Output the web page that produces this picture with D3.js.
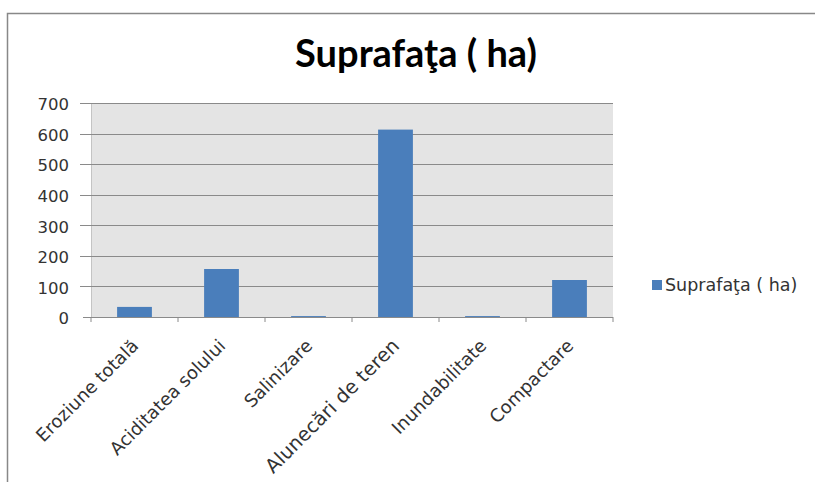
<!DOCTYPE html>
<html><head><meta charset="utf-8">
<script src="https://cdn.jsdelivr.net/npm/d3@7"></script>
<style>body{margin:0;background:#fff}</style>
</head><body>
<svg id="c" width="815" height="482"></svg>
<script>
const categories = ["Eroziune totală","Aciditatea solului","Salinizare","Alunecări de teren","Inundabilitate","Compactare"];
const values = [33, 157, 3, 613, 3, 121];
const yTicks = [0,100,200,300,400,500,600,700];
const seriesName = "Suprafaţa ( ha)";

const svg = d3.select("#c");
const titleFont = "Lato, 'Open Sans', sans-serif";
const font = "'DejaVu Sans', Verdana, sans-serif";
svg.append("path").attr("d","M7.5,482 L7.5,13.5 L815,13.5").attr("fill","none").attr("stroke","#888").attr("stroke-width",1.5);

const L=91, R=613, T=103, B=317;
const x = d3.scaleBand().domain(categories).range([L,R]).paddingInner(0.6).paddingOuter(0.3);
const y = d3.scaleLinear().domain([0,700]).range([B,T]);

svg.append("rect").attr("x",L).attr("y",T).attr("width",R-L).attr("height",B-T).attr("fill","#e4e4e4");
svg.append("line").attr("x1",L+0.5).attr("x2",L+0.5).attr("y1",T).attr("y2",B).attr("stroke","#c4c4c4");

svg.selectAll(".grid").data(yTicks.filter(d=>d>0)).enter().append("line")
  .attr("x1",L-11).attr("x2",R).attr("y1",d=>Math.round(y(d))+0.5).attr("y2",d=>Math.round(y(d))+0.5)
  .attr("stroke","#8a8a8a").attr("stroke-width",1.2);

svg.selectAll(".bar").data(values).enter().append("rect")
  .attr("x",(d,i)=>x(categories[i])).attr("width",x.bandwidth())
  .attr("y",d=>y(d)).attr("height",d=>B-y(d))
  .attr("fill","#4a7ebb");

const yAxis = d3.axisLeft(y).tickValues(yTicks).tickSize(0).tickPadding(22);
const gy = svg.append("g").attr("transform",`translate(${L},1.5)`).call(yAxis);
gy.select(".domain").remove();
gy.selectAll("text").attr("font-family",font).attr("font-size",16.5).attr("fill","#333");

svg.append("line").attr("x1",L-8).attr("x2",R).attr("y1",B+0.5).attr("y2",B+0.5).attr("stroke","#8a8a8a").attr("stroke-width",1.2);
const step = (R-L)/categories.length;
svg.selectAll(".xt").data(d3.range(categories.length+1)).enter().append("line")
  .attr("x1",i=>L+i*step).attr("x2",i=>L+i*step).attr("y1",B).attr("y2",B+5).attr("stroke","#8a8a8a");

svg.selectAll(".xl").data(categories).enter().append("text")
  .attr("transform",d=>`translate(${x(d)+x.bandwidth()/2+5},${B+30}) rotate(-45)`)
  .attr("text-anchor","end").attr("font-family",font)
  .attr("font-size",d=>d.startsWith("Alunec")?19.5:18).attr("fill","#333")
  .text(d=>d);

svg.append("text").attr("x",416).attr("y",67).attr("text-anchor","middle")
  .attr("font-family",titleFont).attr("font-weight","bold").attr("font-size",38).attr("fill","#000").text(seriesName);

svg.append("rect").attr("x",652).attr("y",280).attr("width",10).attr("height",10).attr("fill","#4a7ebb");
svg.append("text").attr("x",665).attr("y",291).attr("font-family",font).attr("font-size",17.5).attr("fill","#333").text(seriesName);
</script>
</body></html>
